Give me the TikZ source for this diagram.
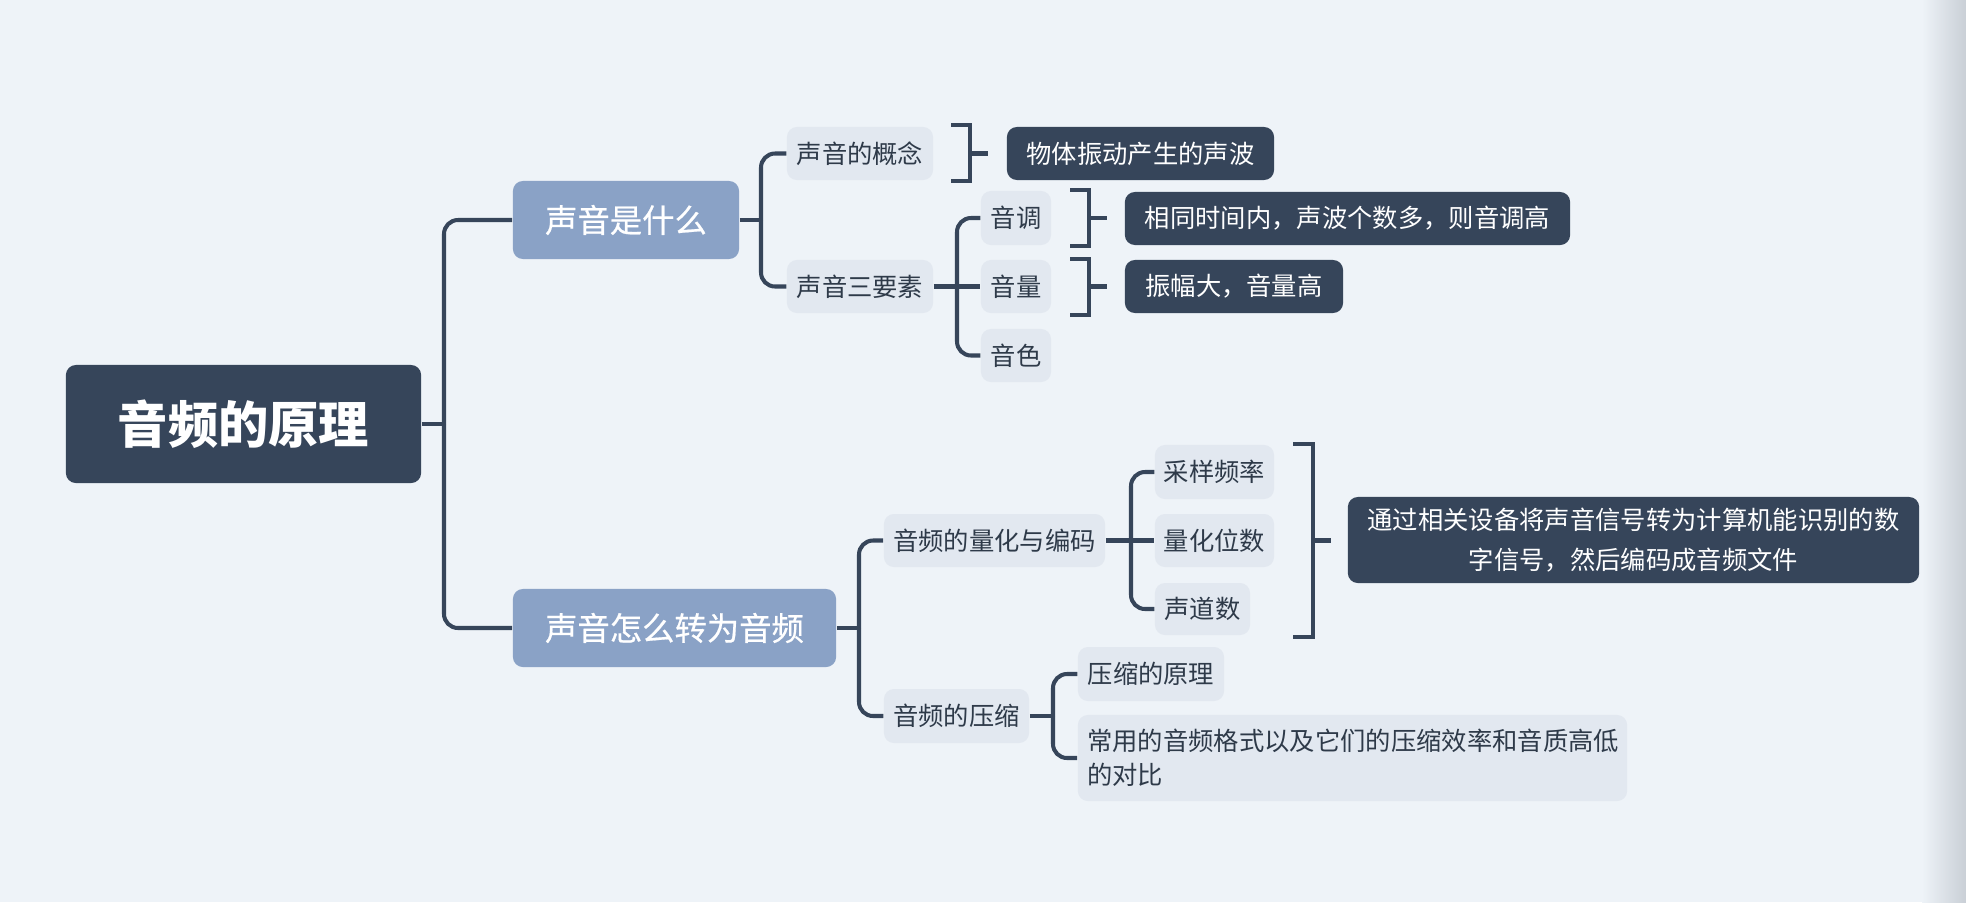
\documentclass[tikz,border=0pt]{standalone}
\usepackage{fontspec}
\setmainfont{Noto Sans CJK SC}
\newfontfamily\medfont{Noto Sans CJK SC}[FakeBold=0.6]
\usetikzlibrary{calc}
\definecolor{bgc}{HTML}{EEF3F8}
\definecolor{edgec}{HTML}{C9CFD6}
\definecolor{darkc}{HTML}{36455A}
\definecolor{lvlonec}{HTML}{8AA2C6}
\definecolor{lvltwoc}{HTML}{E2E8F0}
\definecolor{txtc}{HTML}{2E3A49}
\tikzset{
  box/.style={rounded corners=0.1cm, inner sep=0pt, anchor=center},
  rootbox/.style={box, fill=darkc, text=white, minimum width=3.55cm, minimum height=1.18cm,
    font=\fontsize{14.3pt}{17pt}\selectfont\bfseries},
  onebox/.style={box, fill=lvlonec, text=white, minimum height=0.78cm,
    font=\medfont\fontsize{9.2pt}{11pt}\selectfont},
  twobox/.style={box, fill=lvltwoc, text=txtc, minimum height=0.53cm,
    font=\fontsize{7.2pt}{9.7pt}\selectfont},
  callbox/.style={box, fill=darkc, text=white, minimum height=0.53cm,
    font=\fontsize{7.2pt}{9.2pt}\selectfont},
  conn/.style={draw=darkc, line width=1.15pt},
  elbow/.style={conn, rounded corners=0.14cm},
  brk/.style={draw=darkc, line width=1.15pt, line join=miter}
}
\begin{document}
\begin{tikzpicture}[x=0.01cm, y=-0.01cm]
\fill[bgc] (0,0) rectangle (1966,902);
\shade[left color=bgc, right color=edgec] (1922,0) rectangle (1966,902);
\useasboundingbox (0,0) rectangle (1966,902);

% nodes
\node[rootbox] (root) at (243.5,424) {音频的原理};
\node[onebox, minimum width=2.26cm] (b1) at (626,220) {声音是什么};
\node[onebox, minimum width=3.23cm] (b2) at (674.5,628) {声音怎么转为音频};

\node[twobox, minimum width=1.46cm] (c1) at (860,153.5) {声音的概念};
\node[callbox, minimum width=2.67cm] (d1) at (1140.5,153.5) {物体振动产生的声波};
\node[twobox, minimum width=1.46cm] (c2) at (860,286.5) {声音三要素};

\node[twobox, minimum width=0.70cm, minimum height=0.54cm] (e1) at (1016,218) {音调};
\node[twobox, minimum width=0.70cm] (e2) at (1016,286.5) {音量};
\node[twobox, minimum width=0.70cm] (e3) at (1016,355.5) {音色};
\node[callbox, minimum width=4.45cm] (f1) at (1347.5,218.5) {相同时间内，声波个数多，则音调高};
\node[callbox, minimum width=2.18cm] (f2) at (1234,286.5) {振幅大，音量高};

\node[twobox, minimum width=2.21cm] (c3) at (994.5,540.5) {音频的量化与编码};
\node[twobox, minimum width=1.19cm, minimum height=0.54cm] (g1) at (1214.5,472) {采样频率};
\node[twobox, minimum width=1.19cm] (g2) at (1214.5,540.5) {量化位数};
\node[twobox, minimum width=0.95cm, minimum height=0.52cm] (g3) at (1202.5,609) {声道数};
\node[callbox, minimum width=5.71cm, minimum height=0.86cm, text width=5.5cm, align=center,
  font=\fontsize{7.2pt}{11.2pt}\selectfont] (h1) at (1633.5,540) {通过相关设备将声音信号转为计算机能识别的数\\字信号，然后编码成音频文件};

\node[twobox, minimum width=1.45cm, minimum height=0.54cm] (c4) at (956.5,716) {音频的压缩};
\node[twobox, minimum width=1.46cm, minimum height=0.54cm] (i1) at (1151,674) {压缩的原理};
\node[twobox, minimum width=5.49cm, minimum height=0.86cm, text width=5.3cm, align=left,
  font=\fontsize{7.2pt}{9.7pt}\selectfont] (i2) at (1352.5,758) {常用的音频格式以及它们的压缩效率和音质高低\\的对比};

% spines
\coordinate (s0) at (444,424);
\coordinate (s1) at (761,220);
\coordinate (s2) at (957,286.5);
\coordinate (s3) at (859,628);
\coordinate (s4) at (1131,540.5);
\coordinate (s5) at (1053,716);

\draw[conn] (root.east) -- (s0);
\draw[elbow] (s0) |- (b1.west);
\draw[elbow] (s0) |- (b2.west);

\draw[conn] (b1.east) -- (s1);
\draw[elbow] (s1) |- (c1.west);
\draw[elbow] (s1) |- (c2.west);

\draw[conn] (c2.east) -- (s2);
\draw[elbow] (s2) |- (e1.west);
\draw[conn] (s2) -- (e2.west);
\draw[elbow] (s2) |- (e3.west);

\draw[conn] (b2.east) -- (s3);
\draw[elbow] (s3) |- (c3.west);
\draw[elbow] (s3) |- (c4.west);

\draw[conn] (c3.east) -- (s4);
\draw[elbow] (s4) |- (g1.west);
\draw[conn] (s4) -- (g2.west);
\draw[elbow] (s4) |- (g3.west);

\draw[conn] (c4.east) -- (s5);
\draw[elbow] (s5) |- (i1.west);
\draw[elbow] (s5) |- (i2.west);

% brackets (summaries)
\coordinate (k1) at (988,153.5);
\draw[brk] (951,125) -- (970,125) -- (970,181) -- (951,181);
\draw[conn] (970,153.5) -- (k1);

\coordinate (k2) at (1107,218);
\draw[brk] (1070,190) -- (1089,190) -- (1089,246) -- (1070,246);
\draw[conn] (1089,218) -- (k2);

\coordinate (k3) at (1107,286.5);
\draw[brk] (1070,259) -- (1089,259) -- (1089,315) -- (1070,315);
\draw[conn] (1089,286.5) -- (k3);

\coordinate (k4) at (1331,540.5);
\draw[brk] (1293,444) -- (1313,444) -- (1313,637) -- (1293,637);
\draw[conn] (1313,540.5) -- (k4);
\end{tikzpicture}
\end{document}
